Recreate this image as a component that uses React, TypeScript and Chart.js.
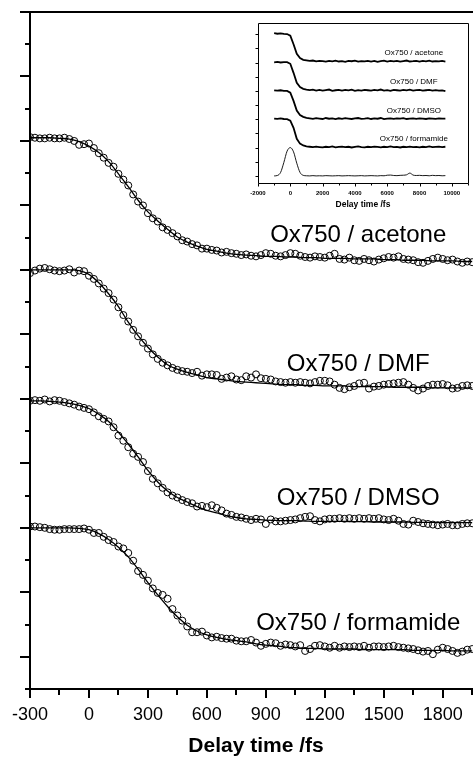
import React, { useEffect, useRef } from "react";
import { Chart, registerables } from "chart.js";

Chart.register(...registerables);

// ---------- main panel data ----------
const delayTimes = [
  -300, -275, -250, -225, -200, -175, -150, -125, -100, -75,
  -50, -25, 0, 25, 50, 75, 100, 125, 150, 175,
  200, 225, 250, 275, 300, 325, 350, 375, 400, 425,
  450, 475, 500, 525, 550, 575, 600, 625, 650, 675,
  700, 725, 750, 775, 800, 825, 850, 875, 900, 925,
  950, 975, 1000, 1025, 1050, 1075, 1100, 1125, 1150, 1175,
  1200, 1225, 1250, 1275, 1300, 1325, 1350, 1375, 1400, 1425,
  1450, 1475, 1500, 1525, 1550, 1575, 1600, 1625, 1650, 1675,
  1700, 1725, 1750, 1775, 1800, 1825, 1850, 1875, 1900, 1925,
  1950,
];

const acetoneData = [
  8.06, 8.05, 8.04, 8.04, 8.05, 8.04, 8.04, 8.05, 8.03, 8.0,
  7.94, 7.95, 7.96, 7.89, 7.81, 7.74, 7.66, 7.6, 7.49, 7.4,
  7.31, 7.17, 7.06, 7.0, 6.88, 6.8, 6.75, 6.66, 6.62, 6.57,
  6.52, 6.46, 6.44, 6.4, 6.38, 6.33, 6.33, 6.31, 6.3, 6.27,
  6.28, 6.26, 6.25, 6.23, 6.24, 6.22, 6.21, 6.23, 6.26, 6.25,
  6.22, 6.21, 6.23, 6.26, 6.25, 6.22, 6.2, 6.19, 6.21, 6.2,
  6.19, 6.22, 6.25, 6.17, 6.16, 6.19, 6.15, 6.14, 6.17, 6.15,
  6.13, 6.16, 6.18, 6.2, 6.19, 6.21, 6.17, 6.16, 6.15, 6.12,
  6.11, 6.14, 6.17, 6.19, 6.17, 6.15, 6.16, 6.13, 6.11, 6.13,
  6.12,
];

const dmfData = [
  5.95, 5.99, 6.02, 6.03, 6.01, 5.99, 5.98, 5.99, 6.01, 5.96,
  5.99, 5.98, 5.91, 5.86, 5.79, 5.71, 5.64, 5.54, 5.42, 5.3,
  5.2, 5.07, 4.97, 4.87, 4.78, 4.69, 4.62, 4.56, 4.52, 4.48,
  4.45, 4.43, 4.42, 4.4, 4.42, 4.36, 4.38, 4.38, 4.37, 4.31,
  4.33, 4.35, 4.3, 4.29, 4.35, 4.33, 4.38, 4.32, 4.31, 4.3,
  4.27, 4.26, 4.25, 4.26, 4.25, 4.26, 4.25, 4.24, 4.26, 4.28,
  4.28, 4.27, 4.22, 4.17, 4.15, 4.18, 4.2, 4.24, 4.25, 4.16,
  4.19, 4.2, 4.22, 4.23, 4.24, 4.25, 4.26, 4.22, 4.17, 4.13,
  4.16, 4.2, 4.22, 4.22, 4.23, 4.21, 4.16, 4.17, 4.2, 4.21,
  4.2,
];

const dmsoData = [
  3.97, 3.98, 3.97, 3.99, 3.96, 3.98, 3.97, 3.95, 3.93, 3.91,
  3.88, 3.86, 3.84, 3.79, 3.73, 3.69, 3.65, 3.56, 3.43, 3.35,
  3.25, 3.15, 3.1, 3.02, 2.88, 2.76, 2.69, 2.62, 2.55, 2.5,
  2.47, 2.43, 2.4, 2.38, 2.33, 2.34, 2.32, 2.35, 2.31, 2.27,
  2.22, 2.2, 2.17, 2.16, 2.14, 2.12, 2.14, 2.13, 2.06, 2.13,
  2.1, 2.1, 2.11, 2.12, 2.13, 2.15, 2.17, 2.18, 2.12, 2.1,
  2.13, 2.14, 2.14, 2.15, 2.14, 2.15, 2.14, 2.15, 2.14, 2.15,
  2.14, 2.15, 2.13, 2.12, 2.14, 2.11, 2.06, 2.05, 2.11, 2.09,
  2.07, 2.06, 2.05, 2.04, 2.05, 2.06, 2.04, 2.04, 2.06, 2.07,
  2.07,
];

const formamideData = [
  2.02, 2.02, 2.01, 2.0, 1.98, 1.97, 1.97, 1.98, 1.98, 1.98,
  1.98, 1.99, 1.97, 1.92, 1.92, 1.86, 1.81, 1.78, 1.71, 1.68,
  1.61, 1.49, 1.33, 1.27, 1.18, 1.06, 0.99, 0.96, 0.9, 0.74,
  0.64, 0.56, 0.47, 0.38, 0.38, 0.39, 0.33, 0.3, 0.31, 0.29,
  0.28, 0.28, 0.25, 0.24, 0.24, 0.26, 0.22, 0.17, 0.2, 0.22,
  0.21, 0.17, 0.19, 0.18, 0.16, 0.18, 0.09, 0.12, 0.17, 0.18,
  0.16, 0.14, 0.17, 0.14, 0.16, 0.15, 0.16, 0.15, 0.17, 0.14,
  0.16, 0.16, 0.15, 0.16, 0.17, 0.15, 0.14, 0.13, 0.12, 0.1,
  0.08, 0.09, 0.04, 0.11, 0.14, 0.12, 0.09, 0.06, 0.08, 0.11,
  0.12,
];

const fitTimes = [
  -300, -250, -200, -150, -100, -50, 0, 50, 100, 150,
  200, 250, 300, 350, 400, 450, 500, 550, 600, 650,
  700, 750, 800, 850, 900, 950, 1000, 1050, 1100, 1150,
  1200, 1250, 1300, 1350, 1400, 1450, 1500, 1550, 1600, 1650,
  1700, 1750, 1800, 1850, 1900, 1950,
];

const acetoneFit = [
  8.05, 8.05, 8.05, 8.04, 8.03, 7.99, 7.92, 7.82, 7.68, 7.49,
  7.29, 7.08, 6.9, 6.76, 6.63, 6.51, 6.43, 6.37, 6.32, 6.29,
  6.26, 6.24, 6.23, 6.22, 6.21, 6.21, 6.2, 6.2, 6.19, 6.19,
  6.18, 6.18, 6.18, 6.17, 6.17, 6.17, 6.16, 6.16, 6.15, 6.15,
  6.15, 6.14, 6.14, 6.14, 6.13, 6.13,
];

const dmfFit = [
  6.0, 6.0, 6.0, 6.0, 6.0, 5.99, 5.93, 5.8, 5.63, 5.43,
  5.19, 4.98, 4.8, 4.65, 4.53, 4.46, 4.41, 4.37, 4.33, 4.31,
  4.29, 4.27, 4.26, 4.25, 4.24, 4.23, 4.22, 4.22, 4.21, 4.21,
  4.2, 4.2, 4.2, 4.19, 4.19, 4.19, 4.19, 4.18, 4.18, 4.18,
  4.18, 4.17, 4.17, 4.17, 4.17, 4.17,
];

const dmsoFit = [
  3.97, 3.97, 3.96, 3.95, 3.93, 3.9, 3.85, 3.76, 3.65, 3.48,
  3.3, 3.1, 2.89, 2.71, 2.57, 2.47, 2.4, 2.33, 2.27, 2.23,
  2.19, 2.16, 2.14, 2.13, 2.12, 2.115, 2.11, 2.11, 2.105, 2.1,
  2.1, 2.1, 2.1, 2.095, 2.095, 2.09, 2.09, 2.09, 2.09, 2.085,
  2.085, 2.085, 2.08, 2.08, 2.08, 2.08,
];

const formamideFit = [
  2.0, 2.0, 2.0, 2.0, 2.0, 1.99, 1.97, 1.91, 1.82, 1.7,
  1.55, 1.36, 1.15, 0.96, 0.78, 0.62, 0.49, 0.4, 0.34, 0.3,
  0.27, 0.25, 0.23, 0.2, 0.18, 0.17, 0.15, 0.14, 0.13, 0.13,
  0.12, 0.12, 0.12, 0.12, 0.11, 0.11, 0.11, 0.11, 0.11, 0.1,
  0.1, 0.1, 0.1, 0.09, 0.09, 0.09,
];

const seriesLabels = ["Ox750 / acetone", "Ox750 / DMF", "Ox750 / DMSO", "Ox750 / formamide"];
const mainLabelX = 1370;
const mainLabelY = [6.44, 4.43, 2.36, 0.42];

const xMajorTicks = [-300, 0, 300, 600, 900, 1200, 1500, 1800];
const xMinorTicks = [-150, 150, 450, 750, 1050, 1350, 1650, 1950];
const yMajorTicks = [0, 1, 2, 3, 4, 5, 6, 7, 8, 9, 10];
const yMinorTicks = [-0.5, 0.5, 1.5, 2.5, 3.5, 4.5, 5.5, 6.5, 7.5, 8.5, 9.5];
const xTitle = "Delay time /fs";

// ---------- inset data ----------
const insetTimes = [
  -1000, -800, -600, -400, -200, 0, 200, 400, 600, 800,
  1000, 1200, 1400, 1600, 1800, 2000, 2200, 2400, 2600, 2800,
  3000, 3200, 3400, 3600, 3800, 4000, 4200, 4400, 4600, 4800,
  5000, 5200, 5400, 5600, 5800, 6000, 6200, 6400, 6600, 6800,
  7000, 7200, 7400, 7600, 7800, 8000, 8200, 8400, 8600, 8800,
  9000, 9200, 9400, 9600,
];

const insetAcetone = [
  10.08, 10.04, 10.07, 10.03, 10.02, 9.9, 9.3, 8.62, 8.32, 8.2,
  8.16, 8.12, 8.15, 8.09, 8.13, 8.1, 8.07, 8.12, 8.09, 8.14,
  8.08, 8.11, 8.06, 8.12, 8.1, 8.14, 8.07, 8.11, 8.09, 8.13,
  8.08, 8.12, 8.06, 8.11, 8.14, 8.08, 8.12, 8.09, 8.13, 8.07,
  8.11, 8.15, 8.08, 8.1, 8.13, 8.07, 8.12, 8.09, 8.14, 8.08,
  8.11, 8.09, 8.12, 8.08,
];

const insetDmf = [
  8.02, 8.05, 8.01, 8.04, 8.03, 7.92, 7.28, 6.58, 6.27, 6.15,
  6.1, 6.06, 6.09, 6.03, 6.08, 6.02, 6.06, 6.1, 6.01, 6.05,
  6.08, 6.02, 6.07, 6.04, 6.09, 6.01, 6.06, 6.03, 6.08, 6.05,
  6.02, 6.07, 6.04, 6.1, 6.03, 6.06, 6.01, 6.08, 6.05, 6.02,
  6.07, 6.04, 6.09, 6.03, 6.06, 6.08, 6.02, 6.05, 6.07, 6.03,
  6.06, 6.02, 6.04, 5.99,
];

const insetDmso = [
  6.04, 6.02, 6.05, 6.01, 6.0, 5.88, 5.3, 4.62, 4.3, 4.17,
  4.1, 4.07, 4.03, 4.08, 4.05, 4.02, 4.09, 4.04, 4.06, 4.01,
  4.07, 4.03, 4.08, 4.05, 4.02, 4.06, 4.09, 4.03, 4.05, 4.08,
  4.02, 4.06, 4.04, 4.09, 4.01, 4.05, 4.07, 4.03, 4.06, 4.04,
  4.08, 4.02, 4.05, 4.07, 4.03, 4.06, 4.04, 4.02, 4.07, 4.05,
  4.03, 4.06, 4.04, 4.05,
];

const insetFormamide = [
  4.05, 4.03, 4.06, 4.02, 4.01, 3.9, 3.4, 2.62, 2.28, 2.15,
  2.09, 2.06, 2.03, 2.07, 2.04, 2.01, 2.06, 2.03, 2.08, 2.02,
  2.05, 2.07, 2.03, 2.06, 2.01, 2.05, 2.08, 2.04, 2.02, 2.06,
  2.03, 2.07, 2.05, 2.02, 2.06, 2.04, 2.08, 2.03, 2.05, 2.01,
  2.06, 2.04, 2.07, 2.03, 2.05, 2.02, 2.06, 2.04, 2.08, 2.03,
  2.05, 2.07, 2.04, 2.06,
];

const insetPulse = [
  0.0, 0.03, 0.25, 0.95, 1.75, 2.0, 1.7, 0.9, 0.25, 0.04,
  0.01, 0.0, 0.02, 0.0, 0.01, 0.0, 0.02, 0.01, 0.0, 0.01,
  0.02, 0.0, 0.01, 0.02, 0.01, 0.0, 0.01, 0.02, 0.0, 0.01,
  0.02, 0.01, 0.0, 0.02, 0.01, 0.05, 0.06, 0.03, 0.02, 0.04,
  0.05, 0.08, 0.2, 0.06, 0.03, 0.04, 0.02, 0.03, 0.01, 0.04,
  0.02, 0.03, 0.01, 0.02,
];

const insetLabelX = 7650;
const insetLabelY = [8.52, 6.48, 4.43, 2.47];
const insetXMajor = [-2000, 0, 2000, 4000, 6000, 8000, 10000];
const insetXMinor = [-1000, 1000, 3000, 5000, 7000, 9000, 11000];
const insetYTicks = [0, 1, 2, 3, 4, 5, 6, 7, 8, 9, 10];

const FONT = "Arial, 'Liberation Sans', Helvetica, sans-serif";

const pts = (xs: number[], ys: number[]) => xs.map((x, i) => ({ x, y: ys[i] }));

const mainAxesPlugin = {
  id: "mainAxes",
  afterDraw(chart: any) {
    const { ctx, chartArea: a, scales } = chart;
    const xs = scales.x;
    const ys = scales.y;
    ctx.save();
    ctx.strokeStyle = "#000";
    ctx.lineWidth = 2;
    ctx.lineCap = "butt";
    ctx.beginPath();
    ctx.moveTo(a.left, a.top - 1);
    ctx.lineTo(a.left, a.bottom + 1);
    ctx.moveTo(a.left - 1, a.bottom);
    ctx.lineTo(a.right + 1, a.bottom);
    ctx.moveTo(a.left - 1, a.top);
    ctx.lineTo(a.right + 1, a.top);
    ctx.moveTo(a.right, a.top);
    ctx.lineTo(a.right, a.bottom);
    for (const v of yMajorTicks) {
      const p = Math.round(ys.getPixelForValue(v));
      ctx.moveTo(a.left - 10, p);
      ctx.lineTo(a.left, p);
    }
    for (const v of yMinorTicks) {
      const p = Math.round(ys.getPixelForValue(v));
      ctx.moveTo(a.left - 5, p);
      ctx.lineTo(a.left, p);
    }
    for (const v of xMajorTicks) {
      const p = Math.round(xs.getPixelForValue(v));
      ctx.moveTo(p, a.bottom);
      ctx.lineTo(p, a.bottom + 9);
    }
    for (const v of xMinorTicks) {
      const p = Math.round(xs.getPixelForValue(v));
      ctx.moveTo(p, a.bottom);
      ctx.lineTo(p, a.bottom + 6);
    }
    ctx.stroke();

    ctx.fillStyle = "#000";
    ctx.font = `18px ${FONT}`;
    ctx.textAlign = "center";
    ctx.textBaseline = "alphabetic";
    for (const v of xMajorTicks) {
      ctx.fillText(String(v), xs.getPixelForValue(v), a.bottom + 31);
    }
    ctx.font = `bold 21px ${FONT}`;
    ctx.fillText(xTitle, (a.left + a.right) / 2, a.bottom + 63);

    ctx.font = `24px ${FONT}`;
    seriesLabels.forEach((t, i) => {
      ctx.fillText(t, xs.getPixelForValue(mainLabelX), ys.getPixelForValue(mainLabelY[i]));
    });
    ctx.restore();
  },
};

const insetAxesPlugin = {
  id: "insetAxes",
  afterDraw(chart: any) {
    const { ctx, chartArea: a, scales } = chart;
    const xs = scales.x;
    const ys = scales.y;
    ctx.save();
    ctx.strokeStyle = "#000";
    ctx.lineWidth = 1;
    const L = Math.round(a.left) + 0.5;
    const R = Math.round(a.right) + 0.5;
    const T = Math.round(a.top) + 0.5;
    const B = Math.round(a.bottom) + 0.5;
    ctx.beginPath();
    ctx.rect(L, T, R - L, B - T);
    for (const v of insetYTicks) {
      const p = Math.round(ys.getPixelForValue(v)) + 0.5;
      ctx.moveTo(L - 3, p);
      ctx.lineTo(L, p);
    }
    for (const v of insetXMajor) {
      const p = Math.round(xs.getPixelForValue(v)) + 0.5;
      ctx.moveTo(p, B);
      ctx.lineTo(p, B + 3);
    }
    for (const v of insetXMinor) {
      const p = Math.round(xs.getPixelForValue(v)) + 0.5;
      ctx.moveTo(p, B);
      ctx.lineTo(p, B + 2);
    }
    ctx.stroke();

    ctx.fillStyle = "#000";
    ctx.textAlign = "center";
    ctx.textBaseline = "middle";
    ctx.font = `bold 6px ${FONT}`;
    for (const v of insetXMajor) {
      ctx.fillText(String(v), xs.getPixelForValue(v), a.bottom + 10);
    }
    ctx.font = `bold 8.5px ${FONT}`;
    ctx.fillText(xTitle, (a.left + a.right) / 2, a.bottom + 21.5);

    ctx.font = `8px ${FONT}`;
    ctx.textBaseline = "alphabetic";
    seriesLabels.forEach((t, i) => {
      ctx.fillText(t, xs.getPixelForValue(insetLabelX), ys.getPixelForValue(insetLabelY[i]));
    });
    ctx.restore();
  },
};

export default function App() {
  const mainRef = useRef<HTMLCanvasElement | null>(null);
  const insetRef = useRef<HTMLCanvasElement | null>(null);

  useEffect(() => {
    if (!mainRef.current || !insetRef.current) return;

    const fitStyle = {
      showLine: true,
      borderColor: "#000",
      borderWidth: 1.3,
      pointRadius: 0,
      cubicInterpolationMode: "monotone" as const,
      fill: false,
    };
    const dotStyle = {
      showLine: false,
      pointRadius: 3.5,
      pointBorderWidth: 1,
      pointBorderColor: "#000",
      pointBackgroundColor: "rgba(255,255,255,0)",
      pointStyle: "circle" as const,
    };

    const main = new Chart(mainRef.current, {
      type: "scatter",
      data: {
        datasets: [
          { ...fitStyle, data: pts(fitTimes, acetoneFit) },
          { ...fitStyle, data: pts(fitTimes, dmfFit) },
          { ...fitStyle, data: pts(fitTimes, dmsoFit) },
          { ...fitStyle, data: pts(fitTimes, formamideFit) },
          { ...dotStyle, data: pts(delayTimes, acetoneData) },
          { ...dotStyle, data: pts(delayTimes, dmfData) },
          { ...dotStyle, data: pts(delayTimes, dmsoData) },
          { ...dotStyle, data: pts(delayTimes, formamideData) },
        ],
      },
      options: {
        animation: false,
        responsive: false,
        maintainAspectRatio: false,
        events: [],
        layout: { padding: { left: 30, right: 18, top: 12, bottom: 68 } },
        plugins: { legend: { display: false }, tooltip: { enabled: false } },
        scales: {
          x: { type: "linear", min: -300, max: 2000, display: false },
          y: { type: "linear", min: -0.5, max: 10, display: false },
        },
      },
      plugins: [mainAxesPlugin],
    });

    const lineStyle = (w: number) => ({
      showLine: true,
      borderColor: "#000",
      borderWidth: w,
      pointRadius: 0,
      tension: 0,
      fill: false,
    });

    const inset = new Chart(insetRef.current, {
      type: "scatter",
      data: {
        datasets: [
          { ...lineStyle(1.8), data: pts(insetTimes, insetAcetone) },
          { ...lineStyle(1.8), data: pts(insetTimes, insetDmf) },
          { ...lineStyle(1.8), data: pts(insetTimes, insetDmso) },
          { ...lineStyle(1.8), data: pts(insetTimes, insetFormamide) },
          { ...lineStyle(0.9), cubicInterpolationMode: "monotone" as const, data: pts(insetTimes, insetPulse) },
        ],
      },
      options: {
        animation: false,
        responsive: false,
        maintainAspectRatio: false,
        events: [],
        layout: { padding: { left: 33, right: 5, top: 8, bottom: 32 } },
        plugins: { legend: { display: false }, tooltip: { enabled: false } },
        scales: {
          x: { type: "linear", min: -2000, max: 11000, display: false },
          y: { type: "linear", min: -0.5, max: 10.8, display: false },
        },
      },
      plugins: [insetAxesPlugin],
    });

    return () => {
      main.destroy();
      inset.destroy();
    };
  }, []);

  return (
    <div
      style={{
        position: "fixed",
        left: 0,
        top: 0,
        width: 473,
        height: 757,
        overflow: "hidden",
        background: "#fff",
      }}
    >
      <canvas
        ref={mainRef}
        width={500}
        height={757}
        style={{ position: "absolute", left: 0, top: 0, width: 500, height: 757 }}
      />
      <canvas
        ref={insetRef}
        width={248}
        height={200}
        style={{ position: "absolute", left: 225, top: 15, width: 248, height: 200 }}
      />
    </div>
  );
}
